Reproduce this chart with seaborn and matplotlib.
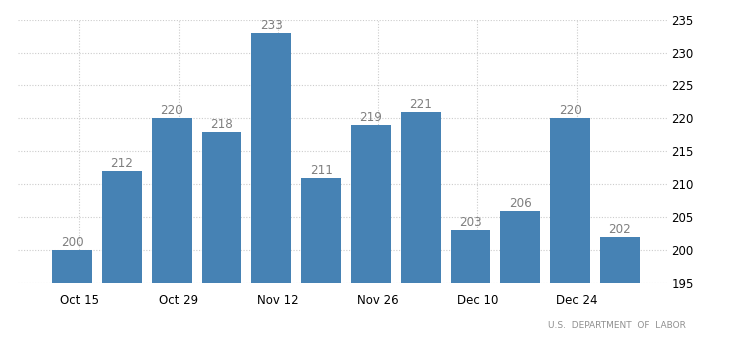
import matplotlib
matplotlib.use("Agg")
import matplotlib.pyplot as plt
import seaborn as sns
import pandas as pd

weeks = ["Oct 15", "Oct 22", "Oct 29", "Nov 05", "Nov 12", "Nov 19",
         "Nov 26", "Dec 03", "Dec 10", "Dec 17", "Dec 24", "Dec 31"]
claims = [200, 212, 220, 218, 233, 211, 219, 221, 203, 206, 220, 202]
tick_labels = ["Oct 15", "Oct 29", "Nov 12", "Nov 26", "Dec 10", "Dec 24"]
y_ticks = [195, 200, 205, 210, 215, 220, 225, 230, 235]

sns.set_theme(style="white")
plt.rcParams["font.family"] = ["DejaVu Sans"]

df = pd.DataFrame({"week": weeks, "claims": claims})

fig = plt.figure(figsize=(7.3, 3.51), dpi=100)
ax = fig.add_axes([0.025, 0.194, 0.889, 0.75])

sns.barplot(data=df, x="week", y="claims", color="#4682B4", saturation=1,
            width=0.8, linewidth=0, ax=ax, zorder=3)

for i, v in enumerate(claims):
    ax.text(i, v + 0.6, str(v), ha="center", va="baseline", fontsize=9.5,
            color="#7f7f7f", family=["DejaVu Sans"], fontstretch="condensed",
            zorder=4)

ax.set_ylim(195, 235)
ax.set_xlim(-1.08, 11.95)
ax.set_yticks(y_ticks)
ax.set_xticks([i * 2 + 0.14 for i in range(len(tick_labels))])
ax.set_xticklabels(tick_labels, fontsize=8.5, color="black")
ax.yaxis.tick_right()
ax.tick_params(axis="y", length=0, pad=3, labelsize=8.5, labelcolor="black")
ax.tick_params(axis="x", length=4, width=0.8, color="#bbbbbb", pad=4)

ax.grid(True, axis="both", linestyle=(0, (1, 1.5)), color="#cccccc",
        linewidth=0.8, zorder=0)
for s in ax.spines.values():
    s.set_visible(False)
ax.set_xlabel("")
ax.set_ylabel("")

fig.text(0.94, 0.074, "U.S.  DEPARTMENT  OF  LABOR", ha="right", va="center",
         fontsize=6.5, color="#909090")

fig.savefig("out.png", dpi=100)
